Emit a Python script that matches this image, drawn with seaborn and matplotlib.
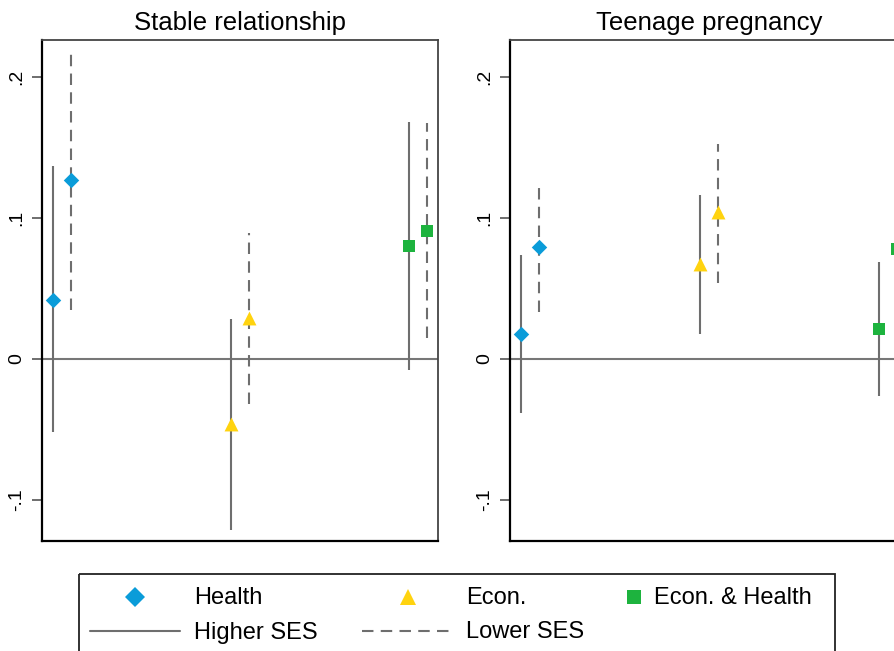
import numpy as np
import pandas as pd
import matplotlib
matplotlib.use("Agg")
import matplotlib.pyplot as plt
import seaborn as sns
from matplotlib.patches import Rectangle

sns.set_style("white")
plt.rcParams['font.family'] = ['Liberation Sans', 'DejaVu Sans']
plt.rcParams['text.color'] = 'black'
plt.rcParams['ytick.color'] = '#555555'
plt.rcParams['ytick.labelcolor'] = 'black'

# ---------------- data ----------------
treatments = ["Health", "Econ.", "Econ. & Health"]
ses_groups = ["Higher SES", "Lower SES"]
panels = ["Stable relationship", "Teenage pregnancy"]

stable_high_est = [0.042, -0.046, 0.080]
stable_high_lo = [-0.052, -0.121, -0.008]
stable_high_hi = [0.137, 0.028, 0.168]
stable_low_est = [0.127, 0.029, 0.091]
stable_low_lo = [0.035, -0.032, 0.015]
stable_low_hi = [0.218, 0.089, 0.167]

teen_high_est = [0.018, 0.067, 0.021]
teen_high_lo = [-0.038, 0.018, -0.026]
teen_high_hi = [0.074, 0.116, 0.069]
teen_low_est = [0.079, 0.104, 0.078]
teen_low_lo = [0.033, 0.054, 0.031]
teen_low_hi = [0.125, 0.152, 0.125]

yticks = [-0.1, 0, 0.1, 0.2]
ytick_labels = ["-.1", "0", ".1", ".2"]

rows = []
for panel, h_e, h_l, h_h, l_e, l_l, l_h in [
    (panels[0], stable_high_est, stable_high_lo, stable_high_hi,
     stable_low_est, stable_low_lo, stable_low_hi),
    (panels[1], teen_high_est, teen_high_lo, teen_high_hi,
     teen_low_est, teen_low_lo, teen_low_hi),
]:
    for i, t in enumerate(treatments):
        rows.append(dict(panel=panel, treatment=t, ses=ses_groups[0],
                         est=h_e[i], lo=h_l[i], hi=h_h[i]))
        rows.append(dict(panel=panel, treatment=t, ses=ses_groups[1],
                         est=l_e[i], lo=l_l[i], hi=l_h[i]))
df = pd.DataFrame(rows)

# ---------------- style ----------------
palette = {"Health": "#0A9CD9", "Econ.": "#FFD30F", "Econ. & Health": "#1DB33E"}
markers = {"Health": "D", "Econ.": "^", "Econ. & Health": "s"}
sizes = {"Health": 62, "Econ.": 100, "Econ. & Health": 85}
line_col = "#6E6E6E"
ses_offset = {"Higher SES": -0.05, "Lower SES": 0.05}
ses_ls = {"Higher SES": "solid", "Lower SES": (0, (5.5, 3.5))}
tpos = {t: i + 1 for i, t in enumerate(treatments)}
df["x"] = df["treatment"].map(tpos) + df["ses"].map(ses_offset)

W, H = 895, 651
fig = plt.figure(figsize=(W / 100, H / 100), dpi=100)

ax_rects = [(42, 40, 396, 501), (510, 40, 398, 501)]
for (x0, y0, w, h), panel in zip(ax_rects, panels):
    ax = fig.add_axes([x0 / W, (H - y0 - h) / H, w / W, h / H])
    sub = df[df.panel == panel]
    ax.axhline(0, color="#777777", lw=1.5, zorder=1)
    for ses in ses_groups:
        s = sub[sub.ses == ses]
        ax.vlines(s["x"], s["lo"], s["hi"], colors=line_col, lw=1.5,
                  linestyles=ses_ls[ses], zorder=2)
    for t in treatments:
        s = sub[sub.treatment == t]
        sns.scatterplot(data=s, x="x", y="est", color=palette[t],
                        marker=markers[t], s=sizes[t], linewidth=0,
                        ax=ax, legend=False, zorder=3)
    ax.set_xlim(0.888, 3.112)
    ax.set_ylim(-0.129, 0.226)
    ax.set_xticks([])
    ax.set_yticks(yticks)
    ax.set_yticklabels(ytick_labels, rotation=90, va="center", fontsize=14)
    ax.tick_params(axis="y", length=7, width=1.2, pad=5, left=True)
    ax.set_xlabel("")
    ax.set_ylabel("")
    ax.set_title(panel, fontsize=18.5, pad=7, color="black")
    for side in ["top", "right"]:
        ax.spines[side].set_color("#444444")
        ax.spines[side].set_linewidth(1.3)
    for side in ["left", "bottom"]:
        ax.spines[side].set_color("black")
        ax.spines[side].set_linewidth(1.6)

# ---------------- legend (drawn in pixel coordinates) ----------------
lg = fig.add_axes([0, 0, 1, 1], zorder=5)
lg.set_xlim(0, W)
lg.set_ylim(H, 0)
lg.axis("off")
lg.add_patch(Rectangle((79, 574), 756, 90, fill=False, edgecolor="#222222",
                       lw=1.3, clip_on=False))
fs = 17
key_marker_x = [135, 408, 634]
key_text_x = [194, 466, 654]
key_ms = {"Health": 10.5, "Econ.": 11, "Econ. & Health": 10.5}
for t, mx, tx in zip(treatments, key_marker_x, key_text_x):
    lg.plot([mx], [597], marker=markers[t], color=palette[t],
            ms=key_ms[t], ls="none", mew=0)
    lg.text(tx, 598.5, t, fontsize=fs, va="center", ha="left")
line_x = [(90, 180), (362, 455)]
line_tx = [194, 466]
for ses, (a, b), tx in zip(ses_groups, line_x, line_tx):
    lg.plot([a, b], [631, 631], color=line_col, lw=1.5, ls=ses_ls[ses])
    lg.text(tx, 632.5, ses, fontsize=fs, va="center", ha="left")

fig.savefig("out.png", dpi=100)
